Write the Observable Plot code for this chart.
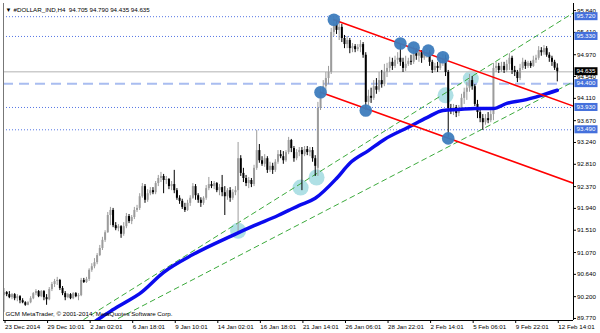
<!DOCTYPE html>
<html><head><meta charset="utf-8">
<script src="https://cdn.jsdelivr.net/npm/d3@7"></script>
<script src="https://cdn.jsdelivr.net/npm/@observablehq/plot@0.6"></script>
<style>body{margin:0;background:#fff} svg{display:block}</style>
</head><body><div id="chart"></div>
<script>
// H4 candles, 23 Dec 2014 .. 12 Feb 2015
const opens = [
90.22,90.28,90.24,90.18,90.24,90.16,90.20,90.12,90.08,90.03,
90.08,90.16,90.26,90.30,90.20,90.30,90.18,90.14,90.34,90.44,
90.50,90.52,90.36,90.26,90.18,90.24,90.16,90.26,90.20,90.22,
90.52,90.48,90.54,90.72,90.79,90.87,91.01,91.15,91.31,91.46,
91.80,91.90,91.60,91.54,91.58,91.43,91.58,91.78,91.68,91.76,
91.90,91.94,92.17,92.37,92.10,92.23,92.29,92.25,92.43,92.53,
92.57,92.49,92.51,92.37,92.41,92.29,92.14,92.08,91.96,91.90,
92.04,92.14,92.37,92.19,92.10,92.04,92.14,92.33,92.41,92.37,
92.43,92.29,92.35,92.25,92.17,92.29,92.14,92.25,92.29,92.92,
92.63,92.53,92.43,92.49,92.41,92.73,93.08,92.88,92.81,92.92,
92.69,92.77,92.69,92.85,93.00,92.96,92.88,93.04,93.28,93.12,
92.92,93.04,93.08,93.00,93.10,93.04,93.08,92.92,92.73,93.91,
94.23,94.34,94.50,94.62,95.41,95.57,95.45,95.51,95.29,95.17,
95.25,95.09,95.13,95.07,95.11,95.17,94.96,94.03,94.15,94.11,
94.34,94.27,94.46,94.38,94.62,94.70,94.82,94.74,94.86,94.90,
94.82,94.70,94.78,94.84,94.82,95.05,94.94,95.01,94.90,94.98,
95.01,94.82,94.66,94.74,94.70,94.82,94.90,94.62,93.91,93.87,
93.93,93.81,93.91,94.11,94.23,94.31,94.46,94.34,93.99,93.83,
93.71,93.63,93.71,93.67,93.79,94.70,94.74,94.66,94.74,94.66,
94.78,94.90,94.66,94.62,94.50,94.70,94.82,94.74,94.80,94.74,
94.86,94.90,95.05,95.01,95.09,94.96,94.90,94.82,94.705];
const highs = [
90.36,90.30,90.30,90.26,90.26,90.24,90.22,90.16,90.10,90.10,
90.20,90.28,90.34,90.32,90.32,90.32,90.24,90.38,90.48,90.54,
90.58,90.54,90.40,90.30,90.26,90.26,90.28,90.28,90.26,90.56,
90.56,90.58,90.75,90.85,90.95,91.05,91.21,91.37,91.50,91.86,
91.96,91.94,91.66,91.62,91.60,91.66,91.84,91.82,91.80,91.96,
92.00,92.23,92.43,92.41,92.31,92.35,92.35,92.47,92.59,92.65,
92.61,92.57,92.53,92.47,92.69,92.33,92.19,92.12,92.04,92.10,
92.19,92.43,92.41,92.23,92.15,92.17,92.39,92.55,92.47,92.47,
92.45,92.41,92.59,92.37,92.33,92.35,92.31,92.37,93.24,92.98,
92.73,92.59,92.55,92.53,92.79,93.48,93.20,92.96,93.00,92.96,
92.85,92.83,92.90,93.08,93.08,93.06,93.08,93.34,93.30,93.16,
93.10,93.14,93.14,93.16,93.16,93.14,93.14,92.98,94.03,94.31,
94.46,94.62,94.74,95.49,95.70,95.65,95.61,95.57,95.35,95.33,
95.29,95.19,95.17,95.17,95.25,95.21,95.01,94.27,94.31,94.46,
94.50,94.62,94.66,94.78,94.80,94.92,94.90,94.94,95.01,95.19,
94.90,94.94,94.90,94.96,95.13,95.09,95.05,95.05,95.05,95.09,
95.05,94.86,94.80,94.82,94.90,94.98,94.96,94.66,93.99,93.99,
93.97,93.97,94.19,94.31,94.42,94.58,94.54,94.38,94.07,93.91,
93.79,93.79,93.83,93.87,94.80,94.82,94.80,94.82,94.82,94.86,
94.99,94.94,94.74,94.66,94.78,94.90,94.86,94.84,94.84,94.94,
94.96,95.13,95.11,95.15,95.13,95.01,94.94,94.86,94.790];
const lows = [
89.89,90.20,90.16,90.14,90.12,90.10,90.06,90.06,90.01,90.02,
90.06,90.14,90.22,90.18,90.18,90.12,90.03,90.12,90.30,90.38,
90.42,90.32,90.22,90.12,90.16,90.14,90.14,90.18,90.12,90.20,
90.46,90.46,90.50,90.68,90.75,90.83,90.99,91.11,91.27,91.45,
91.60,91.56,91.50,91.48,91.35,91.39,91.54,91.64,91.62,91.72,
91.86,91.90,92.14,92.04,92.06,92.19,92.21,92.21,92.37,92.45,
92.23,92.41,92.31,92.29,92.23,92.10,92.02,91.92,91.86,91.88,
91.98,92.12,92.10,92.04,91.96,92.00,92.10,92.29,92.33,92.31,
92.25,92.19,92.17,91.80,92.10,92.06,92.10,92.19,91.46,92.57,
92.45,92.37,92.33,92.35,92.37,92.69,92.83,92.77,92.75,92.63,
92.65,92.61,92.65,92.81,92.92,92.81,92.85,93.00,93.04,92.85,
92.88,92.96,92.29,92.96,92.98,92.96,92.85,92.57,92.57,93.87,
94.17,94.27,94.38,94.58,95.33,95.37,95.25,95.21,95.09,95.09,
94.99,95.01,95.01,95.03,95.01,94.90,93.87,93.97,94.01,94.07,
94.19,94.23,94.31,94.34,94.52,94.62,94.66,94.70,94.78,94.74,
94.62,94.64,94.74,94.76,94.78,94.86,94.82,94.80,94.86,94.90,
94.74,94.60,94.62,94.62,94.66,94.74,94.54,93.34,93.79,93.77,
93.73,93.75,93.87,93.99,94.07,94.23,94.27,93.95,93.71,93.63,
93.48,93.58,93.61,93.63,93.67,94.62,94.60,94.62,94.60,94.62,
94.66,94.58,94.54,94.42,94.46,94.66,94.68,94.70,94.70,94.72,
94.80,94.86,94.94,94.96,94.92,94.82,94.74,94.66,94.435];
const closes = [
90.28,90.24,90.18,90.24,90.16,90.20,90.12,90.08,90.03,90.08,
90.16,90.26,90.30,90.20,90.30,90.18,90.14,90.34,90.44,90.50,
90.52,90.36,90.26,90.18,90.24,90.16,90.26,90.20,90.22,90.52,
90.48,90.54,90.72,90.79,90.87,91.01,91.15,91.31,91.46,91.80,
91.90,91.60,91.54,91.58,91.43,91.58,91.78,91.68,91.76,91.90,
91.94,92.17,92.37,92.10,92.23,92.29,92.25,92.43,92.53,92.57,
92.49,92.51,92.37,92.41,92.29,92.14,92.08,91.96,91.90,92.04,
92.14,92.37,92.19,92.10,92.04,92.14,92.33,92.41,92.37,92.43,
92.29,92.35,92.25,92.17,92.29,92.14,92.25,92.29,92.92,92.63,
92.53,92.43,92.49,92.41,92.73,93.08,92.88,92.81,92.92,92.69,
92.77,92.69,92.85,93.00,92.96,92.88,93.04,93.28,93.12,92.92,
93.04,93.08,93.00,93.10,93.04,93.08,92.92,92.77,93.91,94.23,
94.34,94.50,94.62,95.41,95.57,95.45,95.51,95.29,95.17,95.25,
95.09,95.13,95.07,95.11,95.17,94.96,94.03,94.15,94.11,94.34,
94.27,94.46,94.38,94.62,94.70,94.82,94.74,94.86,94.90,94.82,
94.70,94.78,94.84,94.82,95.05,94.94,95.01,94.90,94.98,95.01,
94.82,94.66,94.74,94.70,94.82,94.90,94.62,93.91,93.87,93.93,
93.81,93.91,94.11,94.23,94.31,94.46,94.34,93.99,93.83,93.71,
93.63,93.71,93.67,93.79,94.70,94.74,94.66,94.74,94.66,94.78,
94.90,94.66,94.62,94.50,94.70,94.82,94.74,94.80,94.74,94.86,
94.90,95.05,95.01,95.09,94.96,94.90,94.82,94.705,94.635];

// x axis (bar index of each label)
const xTickIdx = [0,16,32,48,64,80,96,112,128,144,160,176,192,208];
const xTickLabels = ["23 Dec 2014","29 Dec 10:01","2 Jan 02:01","6 Jan 18:01","9 Jan 10:01","14 Jan 02:01","16 Jan 18:01","21 Jan 14:01","26 Jan 06:01","28 Jan 22:01","2 Feb 14:01","5 Feb 06:01","9 Feb 22:01","12 Feb 14:01"];
// y axis (right)
const yTicks = [89.770,90.200,90.640,91.070,91.510,91.940,92.370,92.810,93.240,93.670,94.110,94.540,94.970,95.410,95.840];

// moving average (bar index, value)
const maIdx = [32,37,40,46,51,60,71,86,94,103,107,111,117,125,130,137,143,152,159,165,171,177,184,189,195,202,208];
const maVal = [89.63,89.81,89.91,90.10,90.26,90.68,91.03,91.41,91.60,91.80,91.90,92.00,92.14,92.53,92.83,93.08,93.30,93.54,93.73,93.87,93.89,93.91,93.91,94.01,94.07,94.17,94.27];

// horizontal levels
const dottedLevels = [95.720,95.330,93.930,93.490];
const dashedLevels = [94.400];
const bidLevel = 94.635;
const boxLevels = [95.720,95.330,94.400,93.930,93.490];

// trend lines: [startIdx, startVal, endIdx, endVal]
const redUpper = [124,95.66,216,93.92];
const redLower = [119,94.23,216,92.40];
const greenUpper = [30,89.75,216,95.86];
const greenLower = [40,89.69,216,94.49];

// marked touch points
const darkIdx = [124,119,136,149,154,159.5,165,167];
const darkVal = [95.66,94.23,93.87,95.19,95.11,95.05,94.92,93.32];
const lightIdx = [88,111.5,117.5,166,175.5];
const lightVal = [91.50,92.35,92.55,94.17,94.50];

const symbol = "#DOLLAR_IND,H4";
const copyright = "GCM MetaTrader, © 2001-2014, MetaQuotes Software Corp.";

// ---------- build ----------
const n = closes.length;
const bars = d3.range(n).map(i => ({i, o: opens[i], h: highs[i], l: lows[i], c: closes[i]}));
const col = d => d.c > d.o ? "#9c9c9c" : "#000000";
const seg = a => [{x: a[0], y: a[1]}, {x: a[2], y: a[3]}];
const ma = maIdx.map((x, k) => ({x, y: maVal[k]}));
const dark = darkIdx.map((x, k) => ({x, y: darkVal[k]}));
const light = lightIdx.map((x, k) => ({x, y: lightVal[k]}));
const f3 = d3.format(".3f");
const xDom = [-0.2, 214.1], yDom = [89.73, 95.98];
const FONT = "'Liberation Sans', Arial, sans-serif";

const chart = Plot.plot({
  width: 600, height: 333,
  marginLeft: 3, marginRight: 27, marginTop: 3, marginBottom: 13,
  x: {domain: xDom, axis: null},
  y: {domain: yDom, axis: null},
  style: {fontFamily: FONT, fontSize: "6.2px", background: "#fff", color: "#000"},
  marks: [
    Plot.dot(light, {x: "x", y: "y", r: 8, fill: "#a6dde2", fillOpacity: 0.9}),
    Plot.ruleY(dottedLevels, {stroke: "#5677e4", strokeDasharray: "1,2", strokeWidth: 1}),
    Plot.ruleY(dashedLevels, {stroke: "#a9bdf0", strokeWidth: 2, strokeDasharray: "10,6"}),
    Plot.ruleY([bidLevel], {stroke: "#cccccc", strokeWidth: 1.5}),
    Plot.line(seg(greenUpper), {x: "x", y: "y", stroke: "#3caa3c", strokeWidth: 1, strokeDasharray: "5,4", clip: true}),
    Plot.line(seg(greenLower), {x: "x", y: "y", stroke: "#3caa3c", strokeWidth: 1, strokeDasharray: "5,4", clip: true}),
    Plot.ruleX(bars, {x: "i", y1: "l", y2: "h", stroke: col, strokeWidth: 1}),
    Plot.ruleX(bars, {x: "i", y1: "o", y2: "c", stroke: col, strokeWidth: 2}),
    Plot.line(ma, {x: "x", y: "y", stroke: "#0b0bee", strokeWidth: 3.5, clip: true, curve: "monotone-x"}),
    Plot.line(seg(redUpper), {x: "x", y: "y", stroke: "#ff0000", strokeWidth: 1.6, clip: true}),
    Plot.line(seg(redLower), {x: "x", y: "y", stroke: "#ff0000", strokeWidth: 1.6, clip: true}),
    Plot.dot(dark, {x: "x", y: "y", r: 6.3, fill: "#3d7cbd", fillOpacity: 0.95}),
    // frame lines
    Plot.ruleX([xDom[0]], {stroke: "#777"}),
    Plot.ruleX([xDom[1]], {stroke: "#000"}),
    Plot.ruleY([yDom[0]], {stroke: "#000"}),
    // axes
    Plot.axisY(yTicks, {anchor: "right", tickFormat: f3, tickSize: 2, tickPadding: 1.5, fill: "#000", stroke: "#000", fontSize: 6.2}),
    Plot.axisX(xTickIdx, {anchor: "bottom", tickFormat: d => xTickLabels[xTickIdx.indexOf(d)], textAnchor: "start", tickSize: 3, tickPadding: 1, dx: 1, fill: "#000", stroke: "#000", fontSize: 6.2}),
    // texts
    Plot.text(["▼"], {frameAnchor: "top-left", dx: 2, dy: 4, fontSize: 6, fill: "#000"}),
    Plot.text([`${symbol}  ${f3(opens[n-1])} ${f3(highs[n-1])} ${f3(lows[n-1])} ${f3(closes[n-1])}`], {frameAnchor: "top-left", dx: 10, dy: 4, textAnchor: "start", fontSize: 6.2, fill: "#000"}),
    Plot.text([copyright], {frameAnchor: "bottom-left", dx: 2, dy: -5, textAnchor: "start", fontSize: 6.2, fill: "#000"})
  ]
});
document.getElementById("chart").appendChild(chart);

// price boxes on the right axis, positioned with the plot's own y scale
const ys = chart.scale("y");
const svg = d3.select(chart);
const g = svg.append("g").attr("font-family", FONT).attr("font-size", "6.2px").attr("text-anchor", "start");
const boxes = boxLevels.map(v => ({v, bg: "#4470dc"})).concat([{v: bidLevel, bg: "#000"}]);
boxes.forEach(b => {
  const y = ys.apply(b.v);
  g.append("rect").attr("x", 574.5).attr("y", y - 4).attr("width", 23).attr("height", 8).attr("fill", b.bg);
  g.append("text").attr("x", 576.5).attr("y", y).attr("dy", "0.35em").attr("text-anchor", "start").attr("fill", "#fff").text(f3(b.v));
});
</script>
</body></html>
